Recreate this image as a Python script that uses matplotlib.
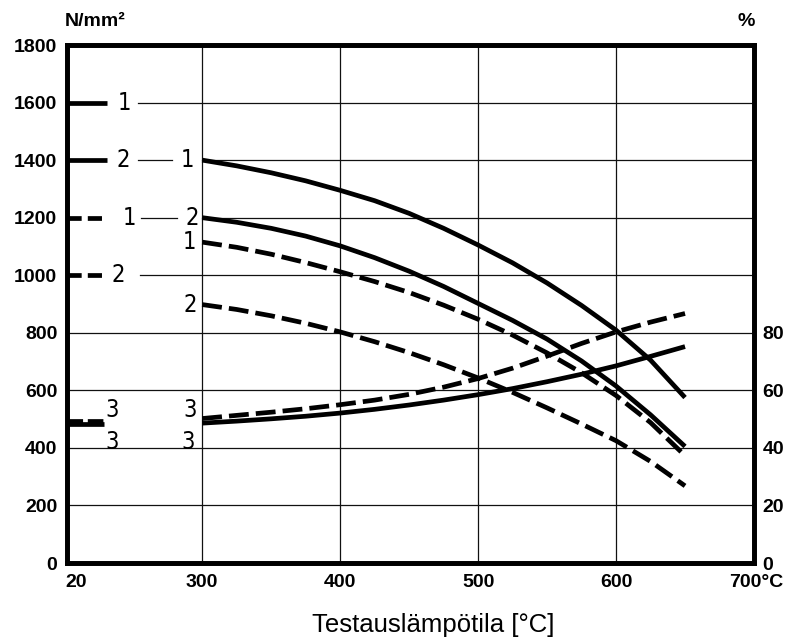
import matplotlib
matplotlib.use("Agg")
import matplotlib.pyplot as plt
import matplotlib.transforms as mtransforms

# ---- data ----
temps = [300, 325, 350, 375, 400, 425, 450, 475, 500, 525, 550, 575, 600, 625, 650]
solid1 = [1400, 1380, 1356, 1328, 1295, 1259, 1215, 1163, 1105, 1043, 973, 895, 809, 705, 575]   # N/mm2
solid2 = [1200, 1184, 1163, 1136, 1102, 1061, 1014, 961, 902, 843, 778, 702, 615, 515, 405]
dashed1 = [1115, 1097, 1073, 1044, 1012, 978, 940, 896, 847, 792, 730, 661, 582, 488, 373]
dashed2 = [898, 881, 859, 833, 803, 769, 731, 689, 643, 593, 539, 483, 425, 353, 268]
solid3_pct = [48.6, 49.3, 50.1, 51.0, 52.1, 53.4, 54.9, 56.6, 58.5, 60.6, 63.0, 65.6, 68.5, 71.8, 75.2]  # %
dashed3_pct = [50.2, 51.3, 52.4, 53.6, 55.0, 56.6, 58.6, 61.1, 64.1, 67.7, 71.9, 76.3, 80.3, 83.7, 86.7]

x_tick_vals = [202, 300, 400, 500, 600]
x_tick_labels = ["20", "300", "400", "500", "600"]
y_left_ticks = [0, 200, 400, 600, 800, 1000, 1200, 1400, 1600, 1800]
y_right_ticks = [0, 20, 40, 60, 80]

bold = ["Liberation Sans", "DejaVu Sans"]

fig = plt.figure(figsize=(7.99, 6.42), dpi=100)
ax = fig.add_axes([67/799, 1-563/642, (754-67)/799, (563-45)/642])
ax2 = ax.twinx()
XMIN, XMAX = 202, 700
ax.set_xlim(XMIN, XMAX)
ax.set_ylim(0, 1800)
ax2.set_ylim(0, 180)

LW = 3.4
DASH = (4.2, 1.5)
gkw = dict(color="#111111", lw=0.9, zorder=1)

# vertical grid
for xv in [300, 400, 500, 600]:
    ax.plot([xv, xv], [0, 1800], **gkw)
# horizontal grid
for yv in [200, 400, 600, 800]:
    ax.plot([XMIN, XMAX], [yv, yv], **gkw)
ax.plot([255, XMAX], [1000, 1000], **gkw)
ax.plot([300, XMAX], [1200, 1200], **gkw)
ax.plot([256, 282], [1200, 1200], **gkw)
ax.plot([300, XMAX], [1400, 1400], **gkw)
ax.plot([253.5, 278], [1400, 1400], **gkw)
ax.plot([253.5, XMAX], [1600, 1600], **gkw)

# curves
ckw = dict(color="black", lw=LW, zorder=3)
ax.plot(temps, solid1, solid_capstyle="butt", solid_joinstyle="round", **ckw)
ax.plot(temps, solid2, solid_capstyle="butt", solid_joinstyle="round", **ckw)
ax.plot(temps, dashed1, dashes=DASH, **ckw)
ax.plot(temps, dashed2, dashes=DASH, **ckw)
ax2.plot(temps, solid3_pct, solid_capstyle="butt", solid_joinstyle="round", **ckw)
ax2.plot(temps, dashed3_pct, dashes=DASH, **ckw)

# legend key on left
ax.plot([XMIN, 231], [1600, 1600], color="black", lw=LW, solid_capstyle="butt")
ax.plot([XMIN, 231], [1400, 1400], color="black", lw=LW, solid_capstyle="butt")
ax.plot([XMIN, 231], [1200, 1200], color="black", lw=LW, dashes=(3.0, 1.3))
ax.plot([XMIN, 231], [1000, 1000], color="black", lw=LW, dashes=(3.0, 1.3))
ax2.plot([XMIN, 229], [49.4, 49.4], color="black", lw=LW, dashes=(3.3, 1.0))
ax2.plot([XMIN, 229], [48.2, 48.2], color="black", lw=LW, solid_capstyle="butt")

tkw = dict(fontsize=17, family=["DejaVu Sans"], fontstretch="condensed",
           fontweight="light", ha="center", va="center", color="black")
ax.text(243.5, 1600, "1", **tkw)
ax.text(243, 1400, "2", **tkw)
ax.text(289.5, 1400, "1", **tkw)
ax.text(247.5, 1200, "1", **tkw)
ax.text(293, 1200, "2", **tkw)
ax.text(239, 1000, "2", **tkw)
ax.text(291, 1115, "1", **tkw)
ax.text(291, 897, "2", **tkw)
ax.text(235, 530, "3", **tkw)
ax.text(235, 420, "3", **tkw)
ax.text(291, 530, "3", **tkw)
ax.text(290, 420, "3", **tkw)

# spines
for a in (ax, ax2):
    for s in a.spines.values():
        s.set_linewidth(3.4)
        s.set_color("black")
        s.set_zorder(5)

# ticks
ax.set_xticks([])
ax.set_yticks(y_left_ticks)
ax.set_yticklabels([str(v) for v in y_left_ticks], fontsize=14,
                   fontweight="bold", family=bold)
ax.tick_params(axis="y", length=0, pad=7)
ax2.set_yticks(y_right_ticks)
ax2.set_yticklabels([str(v) for v in y_right_ticks], fontsize=14,
                    fontweight="bold", family=bold)
ax2.tick_params(axis="y", length=0, pad=6)

trans = mtransforms.blended_transform_factory(ax.transData, ax.transAxes)
xkw = dict(fontsize=14, fontweight="bold", family=bold, va="top", transform=trans)
ax.text(XMIN - 1, -0.022, x_tick_labels[0], ha="left", **xkw)
for xv, lab in zip(x_tick_vals[1:], x_tick_labels[1:]):
    ax.text(xv, -0.022, lab, ha="center", **xkw)
ax.text(682, -0.022, "700°C", ha="left", **xkw)

fig.text(65/799, 1-22/642, "N/mm²", fontsize=14, fontweight="bold",
         family=bold, ha="left", va="center")
fig.text(746/799, 1-21/642, "%", fontsize=14, fontweight="bold",
         family=bold, ha="center", va="center")
fig.text(433/799, 1-625/642, "Testauslämpötila [°C]", fontsize=18.5,
         family=bold, ha="center", va="center")

fig.savefig("out.png", dpi=100, facecolor="white")
